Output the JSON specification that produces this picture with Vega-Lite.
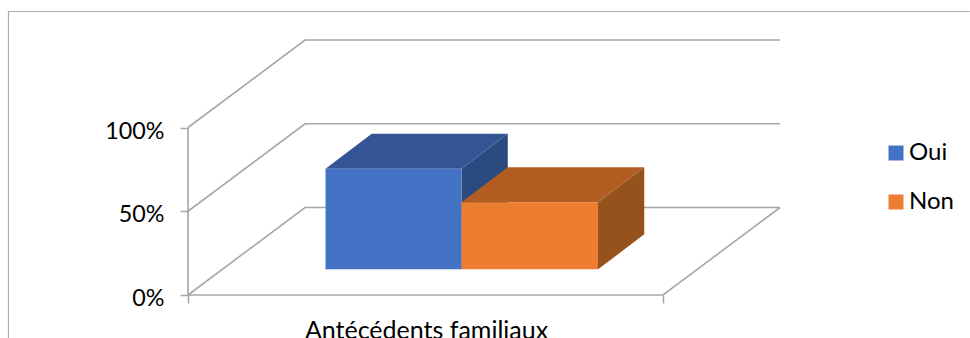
{
  "$schema": "https://vega.github.io/schema/vega-lite/v6.json",
  "width": 592,
  "height": 255,
  "autosize": {"type": "none"},
  "padding": {"left": 188, "top": 40, "right": 190, "bottom": 43},
  "background": "white",
  "config": {"view": {"stroke": null}, "font": "Lato"},
  "datasets": {
    "frame": [
      {"path": "frame", "step": 0, "x": -37.8, "y": -25.7},
      {"path": "frame", "step": 1, "x": -37.8, "y": 169.25},
      {"path": "frame", "step": 2, "x": 164.6, "y": 169.25}
    ],
    "walls": [
      {"path": "axis", "step": 0, "x": 0, "y": 0},
      {"path": "axis", "step": 1, "x": 0, "y": 100},
      {"path": "p100", "step": 0, "x": 0, "y": 100},
      {"path": "p100", "step": 1, "x": 24.63, "y": 152.24},
      {"path": "p100", "step": 2, "x": 124.63, "y": 152.24},
      {"path": "p50", "step": 0, "x": 0, "y": 50},
      {"path": "p50", "step": 1, "x": 24.63, "y": 102.24},
      {"path": "p50", "step": 2, "x": 124.63, "y": 102.24},
      {"path": "p0", "step": 0, "x": 0, "y": 0},
      {"path": "p0", "step": 1, "x": 24.63, "y": 52.24},
      {"path": "p0", "step": 2, "x": 124.63, "y": 52.24},
      {"path": "floor", "step": 0, "x": 0, "y": 0},
      {"path": "floor", "step": 1, "x": 100, "y": 0},
      {"path": "floor", "step": 2, "x": 124.63, "y": 52.24}
    ],
    "sides": [
      {"serie": "Oui", "x": 57.58, "y": 15.3, "y2": 75.3},
      {"serie": "Oui", "x": 67.31, "y": 36.2, "y2": 96.2},
      {"serie": "Non", "x": 86.32, "y": 15.3, "y2": 55.3},
      {"serie": "Non", "x": 96.05, "y": 36.2, "y2": 76.2}
    ],
    "tops": [
      {"serie": "Oui", "y": 75.3, "x": 28.95, "x2": 57.58},
      {"serie": "Oui", "y": 96.2, "x": 38.68, "x2": 67.31},
      {"serie": "Non", "y": 55.3, "x": 57.58, "x2": 86.32},
      {"serie": "Non", "y": 76.2, "x": 67.31, "x2": 96.05}
    ],
    "fronts": [
      {"serie": "Oui", "x": 28.95, "x2": 57.58, "y": 15.3, "y2": 75.3},
      {"serie": "Non", "x": 57.58, "x2": 86.32, "y": 15.3, "y2": 55.3}
    ]
  },
  "encoding": {
    "x": {
      "field": "x",
      "type": "quantitative",
      "stack": null,
      "scale": {"domain": [0, 124.63], "nice": false, "zero": false},
      "axis": {
        "values": [0, 100],
        "labels": false,
        "grid": false,
        "domain": false,
        "tickSize": 8,
        "tickWidth": 1.5,
        "tickColor": "#A6A6A6",
        "title": "Antécédents familiaux",
        "titleFontSize": 25,
        "titleFontWeight": "normal",
        "titleColor": "#000000",
        "titleAlign": "center",
        "titleBaseline": "alphabetic",
        "titleX": 238,
        "titleY": 43
      }
    },
    "y": {
      "field": "y",
      "type": "quantitative",
      "stack": null,
      "scale": {"domain": [0, 152.24], "nice": false, "zero": false},
      "axis": {
        "values": [0, 50, 100],
        "labelExpr": "datum.value + '%'",
        "grid": false,
        "domain": false,
        "title": null,
        "tickSize": 8,
        "tickWidth": 1.5,
        "tickColor": "#A6A6A6",
        "labelFontSize": 23.3,
        "labelColor": "#000000",
        "labelPadding": 16,
        "labelOffset": 3.5
      }
    }
  },
  "layer": [
    {
      "data": {"name": "frame"},
      "mark": {"type": "line", "color": "#ADADAD", "strokeWidth": 1.2, "clip": false},
      "encoding": {
        "detail": {"field": "path"},
        "order": {"field": "step", "type": "quantitative"}
      }
    },
    {
      "data": {"name": "walls"},
      "mark": {"type": "line", "color": "#A6A6A6", "strokeWidth": 1.6},
      "encoding": {
        "detail": {"field": "path"},
        "order": {"field": "step", "type": "quantitative"}
      }
    },
    {
      "data": {"name": "sides"},
      "mark": {"type": "area", "orient": "vertical", "opacity": 1},
      "encoding": {
        "y2": {"field": "y2"},
        "color": {
          "field": "serie",
          "type": "nominal",
          "legend": null,
          "scale": {"domain": ["Oui", "Non"], "range": ["#2A4A80", "#96521C"]}
        }
      }
    },
    {
      "data": {"name": "tops"},
      "mark": {"type": "area", "orient": "horizontal", "opacity": 1},
      "encoding": {
        "x2": {"field": "x2"},
        "color": {
          "field": "serie",
          "type": "nominal",
          "legend": null,
          "scale": {"domain": ["Oui", "Non"], "range": ["#335593", "#B25E22"]}
        }
      }
    },
    {
      "data": {"name": "fronts"},
      "mark": {"type": "rect", "opacity": 1},
      "encoding": {
        "x2": {"field": "x2"},
        "y2": {"field": "y2"},
        "color": {
          "field": "serie",
          "type": "nominal",
          "scale": {"domain": ["Oui", "Non"], "range": ["#4472C4", "#ED7D31"]},
          "legend": {
            "title": null,
            "orient": "none",
            "legendX": 696,
            "legendY": 101,
            "symbolType": "square",
            "symbolSize": 225,
            "symbolStrokeWidth": 0,
            "symbolOpacity": 1,
            "labelFontSize": 24,
            "labelColor": "#000000",
            "labelOffset": 1,
            "rowPadding": 25
          }
        }
      }
    }
  ],
  "resolve": {"scale": {"color": "independent"}}
}
